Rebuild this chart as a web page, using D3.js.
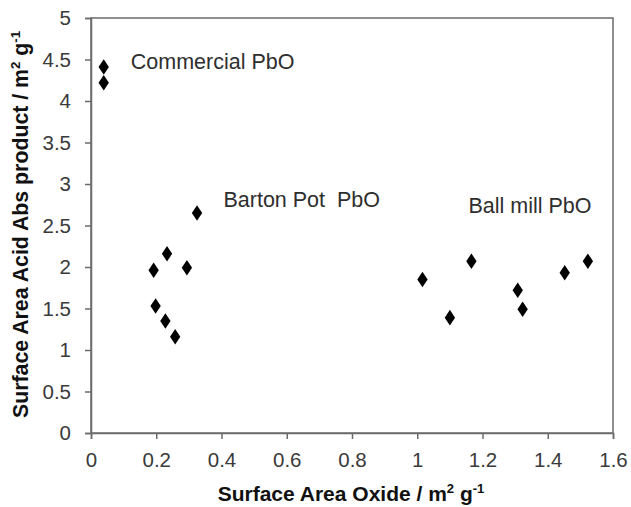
<!DOCTYPE html>
<html>
<head>
<meta charset="utf-8">
<script src="https://cdn.jsdelivr.net/npm/d3@7"></script>
<style>
  body { margin: 0; background: #fff; }
  svg text { font-family: "Liberation Sans", Arial, sans-serif; }
</style>
</head>
<body>
<div id="chart"></div>
<script>
// commercial PbO
var commercial = [
  {x: 0.039, y: 4.41},
  {x: 0.039, y: 4.22}
];

// Barton pot PbO
var barton = [
  {x: 0.192, y: 1.96},
  {x: 0.198, y: 1.53},
  {x: 0.228, y: 1.35},
  {x: 0.233, y: 2.16},
  {x: 0.258, y: 1.16},
  {x: 0.294, y: 1.99},
  {x: 0.325, y: 2.65}
];

// ball mill PbO
var ballMill = [
  {x: 1.016, y: 1.85},
  {x: 1.100, y: 1.39},
  {x: 1.166, y: 2.07},
  {x: 1.308, y: 1.72},
  {x: 1.323, y: 1.49},
  {x: 1.452, y: 1.93},
  {x: 1.523, y: 2.07}
];

var groupLabels = [
  {text: "Commercial PbO", x: 0.122, y: 4.39},
  {text: "Barton Pot  PbO", x: 0.406, y: 2.72},
  {text: "Ball mill PbO", x: 1.157, y: 2.65}
];

var xTicks = [0, 0.2, 0.4, 0.6, 0.8, 1, 1.2, 1.4, 1.6];
var yTicks = [0, 0.5, 1, 1.5, 2, 2.5, 3, 3.5, 4, 4.5, 5];

// set the dimensions and margins of the graph
var margin = {top: 18, right: 18, bottom: 74, left: 91},
    width = 631 - margin.left - margin.right,
    height = 507 - margin.top - margin.bottom;

var svg = d3.select("#chart")
  .append("svg")
    .attr("width", width + margin.left + margin.right)
    .attr("height", height + margin.top + margin.bottom)
  .append("g")
    .attr("transform", "translate(" + margin.left + "," + margin.top + ")");

var x = d3.scaleLinear().domain([0, 1.6]).range([0, width]);
var y = d3.scaleLinear().domain([0, 5]).range([height, 0]);

// frame
svg.append("rect")
  .attr("width", width)
  .attr("height", height)
  .attr("fill", "none")
  .attr("stroke", "#6b6b6b")
  .attr("stroke-width", 1.5);

var xAxis = svg.append("g")
  .attr("transform", "translate(0," + height + ")")
  .call(d3.axisBottom(x).tickValues(xTicks).tickFormat(d3.format("")).tickSize(6).tickPadding(13));

var yAxis = svg.append("g")
  .call(d3.axisLeft(y).tickValues(yTicks).tickFormat(d3.format("")).tickSize(6).tickPadding(14));

[xAxis, yAxis].forEach(function(a) {
  a.select(".domain").attr("stroke", "#6b6b6b").attr("stroke-width", 1.5);
  a.selectAll(".tick line").attr("stroke", "#6b6b6b").attr("stroke-width", 1.5);
  a.selectAll(".tick text")
    .attr("fill", "#3a3a3a")
    .style("font-size", "20.5px")
    .style("font-family", "'Liberation Sans', Arial, sans-serif");
});

// points
var diamond = d3.symbol().type(d3.symbolDiamond).size(70);
var allPoints = commercial.concat(barton, ballMill);
svg.selectAll("path.pt")
  .data(allPoints)
  .enter()
  .append("path")
    .attr("class", "pt")
    .attr("d", diamond)
    .attr("transform", function(d) { return "translate(" + x(d.x) + "," + y(d.y) + ") scale(1.15,1)"; })
    .attr("fill", "#000");

// group labels
svg.selectAll("text.lbl")
  .data(groupLabels)
  .enter()
  .append("text")
    .attr("class", "lbl")
    .attr("x", function(d) { return x(d.x); })
    .attr("y", function(d) { return y(d.y); })
    .attr("fill", "#2e2e2e")
    .style("font-size", "21.5px")
    .style("white-space", "pre")
    .text(function(d) { return d.text; });

// axis titles
function unitTitle(sel, main, fs) {
  sel.append("tspan").text(main + " / m");
  sel.append("tspan").attr("dy", -fs * 0.38).style("font-size", (fs * 0.62) + "px").text("2");
  sel.append("tspan").attr("dy", fs * 0.38).text(" g");
  sel.append("tspan").attr("dy", -fs * 0.38).style("font-size", (fs * 0.62) + "px").text("-1");
}

var xt = svg.append("text")
  .attr("x", width / 2 - 1)
  .attr("y", height + 68)
  .attr("text-anchor", "middle")
  .attr("fill", "#111")
  .style("font-size", "21px")
  .style("font-weight", "bold");
unitTitle(xt, "Surface Area Oxide", 21);

var yt = svg.append("text")
  .attr("transform", "translate(" + (-63) + "," + (height / 2 - 1) + ") rotate(-90)")
  .attr("text-anchor", "middle")
  .attr("fill", "#111")
  .style("font-size", "21.3px")
  .style("font-weight", "bold");
unitTitle(yt, "Surface Area Acid Abs product", 21.3);
</script>
</body>
</html>
